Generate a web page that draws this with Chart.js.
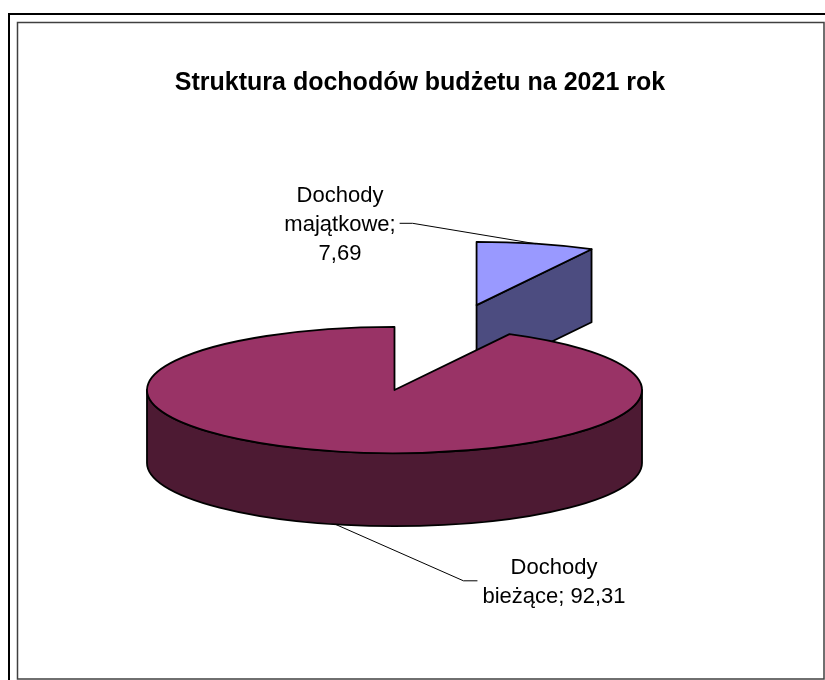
<!DOCTYPE html>
<html lang="pl">
<head>
<meta charset="UTF-8">
<title>Struktura dochodów budżetu na 2021 rok</title>
<script src="https://cdn.jsdelivr.net/npm/chart.js@4.4.1/dist/chart.umd.min.js"></script>
<style>
  html, body { margin: 0; padding: 0; background: #fff; }
  canvas { display: block; }
</style>
</head>
<body>
<canvas id="wykres" width="825" height="680"></canvas>
<script>
  // dane
  const tytul = 'Struktura dochodów budżetu na 2021 rok';
  const kategorie = ['Dochody majątkowe', 'Dochody bieżące'];
  const udzialy = [7.69, 92.31];

  // kolory: wierzch i bok plastra
  const koloryWierzch = ['#9999ff', '#993366'];
  const koloryBok = ['#4c4c80', '#4d1a33'];

  // widok 3D (środek, spłaszczenie, grubość, wysunięcie plastra)
  const PIE = { cx: 394.5, cy: 390, tilt: 0.255, depth: 73, radius: 247.5, explode: [343, 0] };
  const ETYKIETY = [
    { x: 340, y: 202, zawijaj: true },
    { x: 554, y: 574, zawijaj: false }
  ];
  const FONT = '"Liberation Sans", Arial, sans-serif';
  const LH = 29;

  function rzut(arc, i) {
    const mid = (arc.startAngle + arc.endAngle) / 2;
    const ox = PIE.cx + Math.cos(mid) * PIE.explode[i];
    const oy = PIE.cy + Math.sin(mid) * PIE.explode[i] * PIE.tilt;
    const r = arc.outerRadius;
    return {
      ox, oy, mid,
      pt: (a, z) => [ox + Math.cos(a) * r, oy + Math.sin(a) * r * PIE.tilt + z]
    };
  }

  // fragmenty obwodu widoczne z przodu (sin > 0)
  function widoczneLuki(s, e) {
    const out = [];
    for (let n = -2; n <= 2; n++) {
      const a0 = Math.max(s, 2 * Math.PI * n), a1 = Math.min(e, 2 * Math.PI * n + Math.PI);
      if (a1 > a0 + 1e-6) out.push([a0, a1]);
    }
    return out;
  }

  function rysujBok(ctx, arc, i, p) {
    const D = PIE.depth, r = arc.outerRadius, ry = r * PIE.tilt;
    ctx.fillStyle = koloryBok[i];
    const sciany = [];
    if (Math.cos(arc.startAngle) < -1e-6) sciany.push(arc.startAngle);
    if (Math.cos(arc.endAngle) > 1e-6) sciany.push(arc.endAngle);
    sciany.forEach(a => {
      const [x1, y1] = p.pt(a, 0), [x2, y2] = p.pt(a, D);
      ctx.beginPath();
      ctx.moveTo(p.ox, p.oy);
      ctx.lineTo(x1, y1);
      ctx.lineTo(x2, y2);
      ctx.lineTo(p.ox, p.oy + D);
      ctx.closePath();
      ctx.fill();
      ctx.stroke();
    });
    widoczneLuki(arc.startAngle, arc.endAngle).forEach(([a0, a1]) => {
      ctx.beginPath();
      ctx.ellipse(p.ox, p.oy, r, ry, 0, a0, a1);
      ctx.ellipse(p.ox, p.oy + D, r, ry, 0, a1, a0, true);
      ctx.closePath();
      ctx.fill();
      ctx.stroke();
    });
  }

  function rysujWierzch(ctx, arc, i, p) {
    ctx.save();
    ctx.translate(p.ox, p.oy);
    ctx.scale(1, PIE.tilt);
    ctx.translate(-arc.x, -arc.y);
    arc.draw(ctx);
    ctx.restore();
    ctx.beginPath();
    ctx.moveTo(p.ox, p.oy);
    ctx.ellipse(p.ox, p.oy, arc.outerRadius, arc.outerRadius * PIE.tilt, 0, arc.startAngle, arc.endAngle);
    ctx.closePath();
    ctx.stroke();
  }

  function linieEtykiety(i) {
    const [w1, ...reszta] = kategorie[i].split(' ');
    const wart = udzialy[i].toFixed(2).replace('.', ',');
    const w2 = reszta.join(' ') + ';';
    return ETYKIETY[i].zawijaj ? [w1, w2, wart] : [w1, w2 + ' ' + wart];
  }

  function rysujEtykiete(ctx, i, p) {
    const et = ETYKIETY[i];
    const linie = linieEtykiety(i);
    ctx.font = '22px ' + FONT;
    ctx.fillStyle = '#000';
    ctx.textAlign = 'center';
    ctx.textBaseline = 'alphabetic';
    linie.forEach((t, j) => ctx.fillText(t, et.x, et.y + j * LH));

    // linia odniesienia
    const w = Math.max(...linie.map(t => ctx.measureText(t).width));
    const [tx, ty] = p.pt(p.mid, Math.sin(p.mid) > 0 ? PIE.depth : 0);
    const my = et.y - 7.7 + (linie.length - 1) * LH / 2;
    const prawo = tx > et.x;
    const ax = prawo ? et.x + w / 2 + 4 : et.x - w / 2 - 5;
    const kx = prawo ? ax + 13 : ax - 14;
    ctx.beginPath();
    ctx.moveTo(ax, my);
    ctx.lineTo(kx, my);
    ctx.lineTo(tx, ty);
    ctx.lineWidth = 1;
    ctx.strokeStyle = '#000';
    ctx.stroke();
  }

  const ramka = {
    id: 'ramka',
    beforeDraw(chart) {
      const ctx = chart.ctx;
      ctx.save();
      ctx.fillStyle = '#fff';
      ctx.fillRect(0, 0, chart.width, chart.height);
      ctx.strokeStyle = '#000';
      ctx.lineWidth = 2;
      ctx.beginPath();
      ctx.moveTo(9, chart.height);
      ctx.lineTo(9, 14);
      ctx.lineTo(chart.width, 14);
      ctx.stroke();
      ctx.strokeStyle = '#404040';
      ctx.lineWidth = 1.5;
      ctx.strokeRect(17.5, 22.5, 806.5, 656.5);
      ctx.restore();
    }
  };

  const tort3d = {
    id: 'tort3d',
    beforeDatasetDraw(chart, args) {
      const ctx = chart.ctx;
      const arcs = args.meta.data;
      const kolej = arcs.map((arc, i) => ({ arc, i, p: rzut(arc, i) }))
        .sort((a, b) => a.p.oy - b.p.oy);
      ctx.save();
      ctx.strokeStyle = '#000';
      ctx.lineWidth = 1.8;
      ctx.lineJoin = 'round';
      kolej.forEach(({ arc, i, p }) => {
        rysujBok(ctx, arc, i, p);
        rysujWierzch(ctx, arc, i, p);
      });
      kolej.forEach(({ i, p }) => rysujEtykiete(ctx, i, p));
      ctx.restore();
      return false;
    }
  };

  new Chart(document.getElementById('wykres'), {
    type: 'pie',
    data: {
      labels: kategorie,
      datasets: [{
        data: udzialy,
        backgroundColor: koloryWierzch,
        borderWidth: 0,
        radius: PIE.radius
      }]
    },
    options: {
      responsive: false,
      devicePixelRatio: 1,
      animation: false,
      radius: PIE.radius,
      rotation: 0,
      layout: { padding: { top: 20, left: 35, right: 20, bottom: 10 } },
      plugins: {
        legend: { display: false },
        tooltip: { enabled: false },
        title: {
          display: true,
          text: tytul,
          color: '#000',
          font: { family: FONT, size: 25, weight: 'bold' },
          padding: { top: 48, bottom: 10 }
        }
      }
    },
    plugins: [ramka, tort3d]
  });
</script>
</body>
</html>
